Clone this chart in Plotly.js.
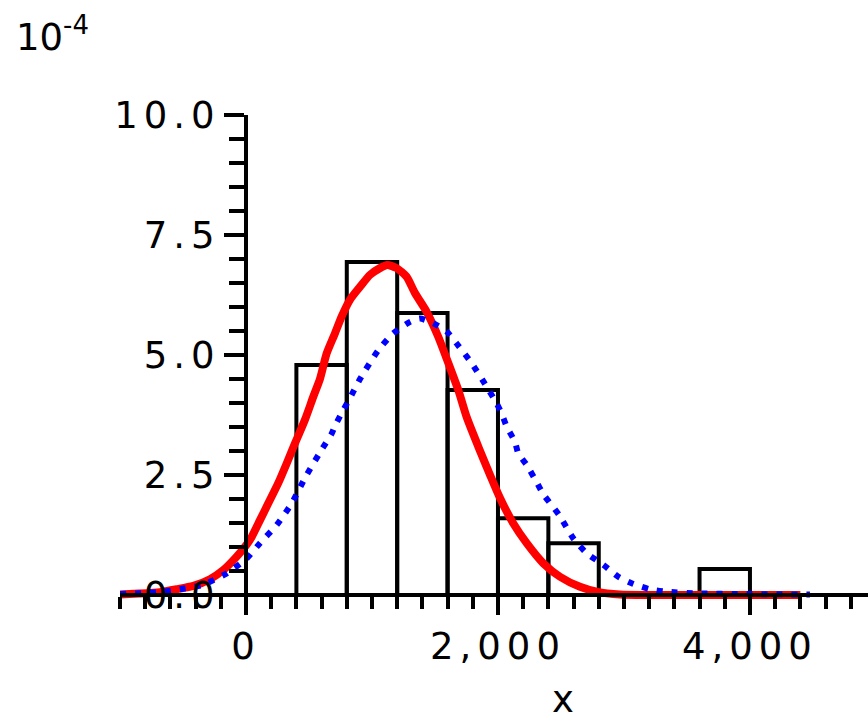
<!DOCTYPE html>
<html>
<head>
<meta charset="utf-8">
<script src="https://cdn.plot.ly/plotly-3.0.1.min.js"></script>
<style>
  html, body { margin: 0; padding: 0; background: #fff; }
  #chart { width: 868px; height: 721px; }
  .xtick text, .ytick text { letter-spacing: 6px; }
</style>
</head>
<body>
<div id="chart"></div>
<script>
// Histogram (density, in units of 1e-4)
const binLeft   = [400, 800, 1200, 1600, 2000, 2400, 2800, 3200, 3600];
const binWidth  = 400;
const binHeight = [4.79, 6.94, 5.875, 4.27, 1.60, 1.08, 0, 0, 0.54];

// Red curve (solid)
const redX = [-1000, -850, -683, -550, -418, -286, -180, -74, 5, 45, 111, 177, 256, 323, 389, 468, 534, 587, 640, 706, 759, 825, 905, 984, 1063, 1121, 1196, 1275, 1341, 1434, 1526, 1606, 1685, 1751, 1844, 1937, 2016, 2122, 2228, 2360, 2492, 2651, 2783, 2968, 3200, 3500, 3817, 4400];
const redY = [0.01, 0.03, 0.06, 0.12, 0.19, 0.33, 0.52, 0.80, 1.05, 1.21, 1.56, 1.91, 2.33, 2.74, 3.16, 3.65, 4.13, 4.50, 5.03, 5.45, 5.80, 6.15, 6.42, 6.67, 6.81, 6.875, 6.81, 6.63, 6.29, 5.90, 5.38, 4.83, 4.27, 3.71, 3.09, 2.50, 2.02, 1.49, 1.08, 0.66, 0.38, 0.17, 0.07, 0.01, 0.0, 0.0, 0.0, 0.0];

// Blue curve (dotted)
const blueX = [-1000, -800, -650, -524, -339, -259, -153, 5, 111, 244, 363, 481, 608, 680, 706, 772, 839, 905, 1050, 1169, 1302, 1381, 1487, 1593, 1672, 1791, 1910, 1990, 2029, 2069, 2135, 2161, 2228, 2307, 2360, 2484, 2598, 2704, 2836, 2955, 3074, 3206, 3339, 3577, 3974, 4476];
const blueY = [0.02, 0.04, 0.07, 0.12, 0.21, 0.31, 0.45, 0.76, 1.08, 1.46, 1.91, 2.50, 3.06, 3.36, 3.52, 3.85, 4.17, 4.50, 5.10, 5.45, 5.69, 5.76, 5.66, 5.49, 5.24, 4.83, 4.34, 3.99, 3.78, 3.51, 3.19, 2.95, 2.71, 2.35, 2.10, 1.67, 1.18, 0.87, 0.63, 0.38, 0.23, 0.12, 0.07, 0.035, 0.02, 0.01];

const xTitle = "x";
const yScaleLabel = "10<sup>-4</sup>";

const binCenter = binLeft.map(v => v + binWidth / 2);
const FONT = "DejaVu Sans, Liberation Sans, sans-serif";

const traces = [
  {
    type: "bar",
    x: binCenter,
    y: binHeight,
    width: binLeft.map(() => binWidth),
    marker: { color: "rgba(0,0,0,0)", line: { color: "#000", width: 4 } },
    hoverinfo: "skip"
  },
  {
    type: "scatter", mode: "lines",
    x: redX, y: redY,
    line: { color: "#ff0000", width: 8, shape: "spline", smoothing: 0.6 }
  },
  {
    type: "scatter", mode: "lines",
    x: blueX, y: blueY,
    line: { color: "#0000ff", width: 6, dash: "6px,9px", shape: "spline", smoothing: 0.6 }
  }
];

const layout = {
  width: 868, height: 721,
  margin: { l: 120, r: 0, t: 115, b: 114 },
  paper_bgcolor: "#fff", plot_bgcolor: "#fff",
  showlegend: false,
  bargap: 0,
  font: { family: FONT, size: 37, color: "#000" },
  xaxis: {
    range: [-1000, 4937],
    anchor: "free", position: 0.02439,
    showline: true, linecolor: "#000", linewidth: 4,
    showgrid: false, zeroline: false,
    ticks: "outside", ticklen: 18, tickwidth: 4, tickcolor: "#000",
    tick0: 0, dtick: 2000, separatethousands: true,
    tickfont: { family: FONT, size: 37, color: "#000" },
    minor: { ticks: "outside", tick0: 0, dtick: 200, ticklen: 12, tickwidth: 4, tickcolor: "#000", showgrid: false }
  },
  yaxis: {
    range: [-0.25, 10],
    anchor: "free", position: 0.16845,
    showline: true, linecolor: "#000", linewidth: 4,
    showgrid: false, zeroline: false,
    ticks: "outside", ticklen: 20, tickwidth: 4, tickcolor: "#000",
    tick0: 0, dtick: 2.5, tickformat: ".1f",
    ticklabelstandoff: -4,
    tickfont: { family: FONT, size: 37, color: "#000" },
    minor: { ticks: "outside", tick0: 0, dtick: 0.5, ticklen: 15, tickwidth: 4, tickcolor: "#000", showgrid: false }
  },
  annotations: [
    {
      text: xTitle, xref: "x", yref: "paper", x: 2516, y: -0.187,
      xanchor: "center", yanchor: "middle", showarrow: false,
      font: { family: FONT, size: 37, color: "#000" }
    },
    {
      text: yScaleLabel, xref: "paper", yref: "paper", x: -0.1417, y: 1.2175,
      xanchor: "left", yanchor: "top", showarrow: false,
      font: { family: FONT, size: 37, color: "#000" }
    }
  ]
};

Plotly.newPlot("chart", traces, layout, { staticPlot: true, displayModeBar: false });
</script>
</body>
</html>
